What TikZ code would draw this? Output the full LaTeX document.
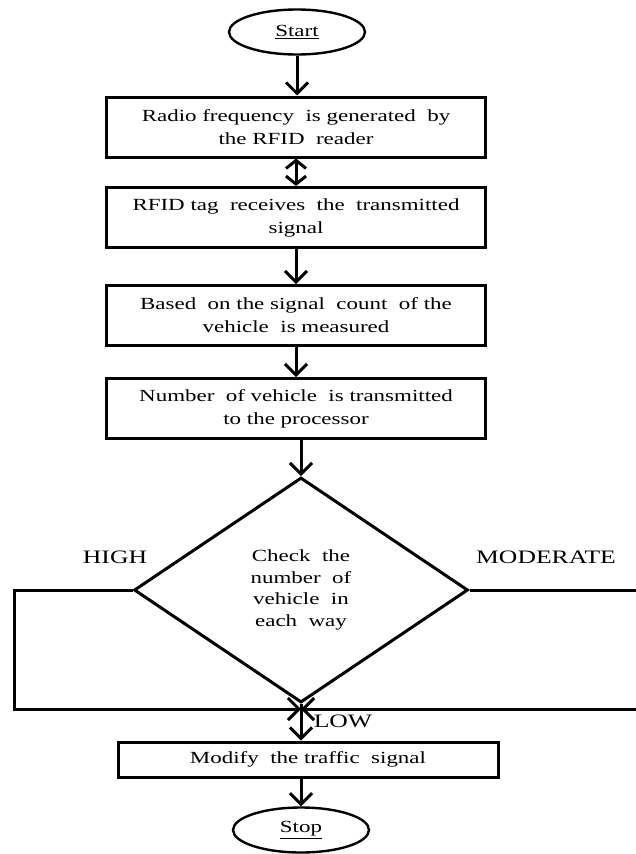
\documentclass[tikz,border=0pt]{standalone}
\usepackage{fontspec}
\setmainfont{Liberation Serif}[FakeStretch=1.35]
\usetikzlibrary{shapes.geometric,arrows.meta}

\begin{document}
\begin{tikzpicture}[x=1pt,y=1pt]
  \tikzstyle{every node}+=[inner sep=0pt]
  \tikzstyle{txt}=[font=\fontsize{17}{23}\selectfont]
  \tikzstyle{lbl}=[font=\fontsize{19}{23}\selectfont]
  \tikzstyle{term}=[txt, draw, ellipse, line width=2.4pt, minimum width=136pt, minimum height=45pt]
  \tikzstyle{procbox}=[txt, draw, line width=3pt, minimum width=379pt, minimum height=60pt, align=center]
  \tikzstyle{decision}=[draw, diamond, line width=3pt, minimum width=334pt, minimum height=225pt, align=center, font=\fontsize{17}{21.7}\selectfont]
  \tikzstyle{flow}=[line width=3pt, -{Straight Barb[length=11pt,width=22pt]}]
  \tikzstyle{both}=[line width=3pt, {Straight Barb[length=8pt,width=20pt]}-{Straight Barb[length=8pt,width=20pt]}]
  \clip (0,0) rectangle (636,-854);
  \node[term] (start) at (297,-32) {\underline{Start}};
  \node[procbox] (radio) at (296,-127) {Radio frequency\ \ is generated\ \ by\\the RFID\ \ reader};
  \node[procbox] (tag) at (296,-217.5) {RFID tag\ \ receives\ \ the\ \ transmitted\\signal};
  \node[procbox] (count) at (296,-315.5) {Based\ \ on the signal\ \ count\ \ of the\\vehicle\ \ is measured};
  \node[procbox] (send) at (296,-408.5) {Number\ \ of vehicle\ \ is transmitted\\to the processor};
  \node[decision] (check) at (301,-590) {Check\ \ the\\number\ \ of\\vehicle\ \ in\\each\ \ way};
  \node[lbl] (high) at (115,-557) {HIGH};
  \node[lbl] (moderate) at (546,-557) {MODERATE};
  \node[lbl] (low) at (343,-721) {LOW};
  \node[procbox, minimum width=380pt, minimum height=35pt] (modify) at (308,-759.5) {Modify\ \ the traffic\ \ signal};
  \node[term] (stop) at (301,-830) {\underline{Stop}};
  \coordinate (merge) at (301,-709);
  \coordinate (lcorner) at (14,-709);
  \coordinate (rcorner) at (648,-709);
  \draw[flow] (start.south) -- (start.south |- radio.north);
  \draw[both] (radio.south) -- (tag.north);
  \draw[flow] (tag.south) -- (count.north);
  \draw[flow] (count.south) -- (send.north);
  \draw[flow] (send.south -| check.north) -- (check.north);
  \draw[flow] (check.west) -| (lcorner) -- (merge);
  \draw[flow] (check.east) -| (rcorner) -- (merge);
  \draw[flow] (check.south) -- (check.south |- modify.north);
  \draw[flow] (stop.north |- modify.south) -- (stop.north);
\end{tikzpicture}
\end{document}
